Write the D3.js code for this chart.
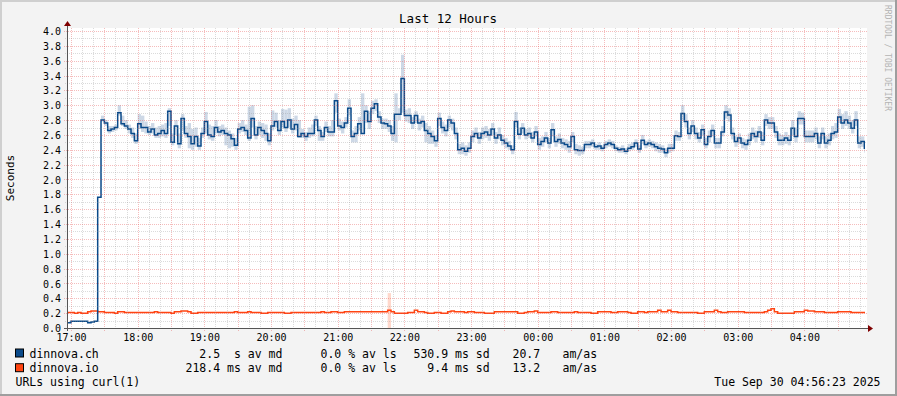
<!DOCTYPE html>
<html>
<head>
<meta charset="utf-8">
<script src="https://cdn.jsdelivr.net/npm/d3@7"></script>
<style>
  body { margin: 0; background: #f3f3f3; }
  text { font-family: "DejaVu Sans Mono", monospace; fill: #000; }
</style>
</head>
<body>
<script>
// dinnova.ch average, one value per 3 minutes starting 16:57
const chAvg = [
  0.07, 0.09, 0.09, 0.09, 0.09, 0.09, 0.07, 0.08, 0.09, 1.76,
  2.80, 2.76, 2.66, 2.68, 2.70, 2.90, 2.75, 2.72, 2.68, 2.62, 2.52, 2.75, 2.70, 2.70, 2.64, 2.68, 2.60, 2.62, 2.66, 2.62,
  2.92, 2.50, 2.72, 2.48, 2.82, 2.62, 2.58, 2.48, 2.58, 2.45, 2.62, 2.78, 2.60, 2.58, 2.70, 2.64, 2.66, 2.62, 2.60, 2.55,
  2.46, 2.68, 2.70, 2.66, 2.56, 2.82, 2.60, 2.70, 2.66, 2.62, 2.52, 2.72, 2.78, 2.66, 2.78, 2.70, 2.80, 2.68, 2.74,
  2.58, 2.62, 2.58, 2.62, 2.62, 2.80, 2.66, 2.58, 2.70, 2.64, 2.64, 3.06, 2.72, 2.70, 2.76, 2.96, 2.58, 2.62, 2.75, 2.62,
  2.92, 2.78, 2.96, 3.02, 2.84, 2.76, 2.75, 2.72, 2.62, 2.88, 2.88, 3.36, 2.86, 2.86, 2.76, 2.86, 2.76, 2.78, 2.66, 2.62,
  2.58, 2.52, 2.82, 2.70, 2.66, 2.80, 2.76, 2.62, 2.40, 2.42, 2.38, 2.42, 2.58, 2.62, 2.56, 2.62, 2.64, 2.60, 2.68, 2.56,
  2.60, 2.53, 2.49, 2.45, 2.40, 2.78, 2.61, 2.69, 2.60, 2.62, 2.56, 2.64, 2.47, 2.51, 2.56, 2.49, 2.67, 2.51, 2.54, 2.49,
  2.47, 2.44, 2.58, 2.40, 2.39,
  2.39, 2.47, 2.47, 2.49, 2.44, 2.45, 2.42, 2.47, 2.49, 2.47, 2.42, 2.40, 2.41, 2.38, 2.42, 2.44, 2.49, 2.41, 2.53, 2.47,
  2.49, 2.47, 2.44, 2.42, 2.41, 2.36, 2.42, 2.42, 2.59, 2.58, 2.89, 2.78, 2.62, 2.72, 2.62, 2.56, 2.67, 2.47, 2.58, 2.66,
  2.49, 2.49, 2.64, 2.91, 2.87, 2.62, 2.51, 2.56, 2.49, 2.47, 2.53, 2.62, 2.58, 2.64, 2.53, 2.80, 2.76, 2.76, 2.64, 2.53,
  2.53, 2.56, 2.53, 2.69, 2.58, 2.82, 2.82, 2.58, 2.58, 2.58, 2.62, 2.49, 2.62, 2.49, 2.53, 2.62, 2.64, 2.84, 2.76, 2.80,
  2.76, 2.69, 2.80, 2.49, 2.51, 2.42
];

// dinnova.ch max / min per step (light band)
const chMax = [
  0.07, 0.09, 0.09, 0.09, 0.09, 0.09, 0.07, 0.08, 0.09, 1.76,
  2.86, 2.80, 2.72, 2.72, 2.74, 3.00, 2.86, 2.80, 2.74, 2.70, 2.62, 2.88, 2.86, 2.78, 2.72, 2.76, 2.70, 2.72, 2.74, 2.76,
  2.96, 2.62, 2.80, 2.62, 2.88, 2.72, 2.76, 2.68, 2.70, 2.56, 2.70, 2.91, 2.74, 2.72, 2.80, 2.72, 2.74, 2.70, 2.66, 2.62,
  2.56, 2.76, 2.80, 2.74, 2.98, 3.00, 2.72, 2.78, 2.76, 2.74, 2.62, 2.93, 2.90, 2.80, 2.95, 2.94, 2.96, 2.82, 2.86,
  2.80, 2.68, 2.64, 2.70, 2.74, 2.86, 2.72, 2.64, 2.78, 2.72, 2.80, 3.16, 2.82, 2.78, 2.84, 3.08, 2.66, 2.72, 2.84, 3.16,
  3.00, 2.92, 3.06, 3.08, 2.92, 2.82, 2.82, 2.80, 2.72, 3.16, 2.96, 3.68, 2.94, 2.96, 2.84, 2.92, 2.82, 2.86, 2.76, 2.72,
  2.66, 2.60, 2.90, 2.78, 2.74, 2.86, 2.82, 2.70, 2.48, 2.50, 2.46, 2.50, 2.66, 2.70, 2.64, 2.70, 2.72, 2.68, 2.76, 2.64,
  2.70, 2.60, 2.56, 2.52, 2.46, 2.91, 2.70, 2.76, 2.68, 2.70, 2.64, 2.72, 2.56, 2.58, 2.64, 2.56, 2.76, 2.58, 2.62, 2.56,
  2.54, 2.52, 2.64, 2.48, 2.46,
  2.44, 2.52, 2.52, 2.54, 2.48, 2.50, 2.46, 2.52, 2.54, 2.52, 2.46, 2.44, 2.46, 2.42, 2.48, 2.50, 2.54, 2.46, 2.60, 2.52,
  2.54, 2.52, 2.50, 2.48, 2.46, 2.42, 2.48, 2.48, 2.66, 2.64, 3.00, 2.88, 2.70, 2.80, 2.70, 2.64, 2.74, 2.56, 2.66, 2.74,
  2.56, 2.56, 2.72, 3.00, 2.96, 2.70, 2.58, 2.62, 2.56, 2.54, 2.62, 2.70, 2.66, 2.72, 2.64, 2.88, 2.84, 2.84, 2.72, 2.62,
  2.60, 2.64, 2.60, 2.80, 2.70, 2.92, 2.90, 2.66, 2.66, 2.66, 2.70, 2.58, 2.70, 2.58, 2.62, 2.72, 2.76, 2.95, 2.88, 2.92,
  2.86, 2.80, 2.92, 2.58, 2.58, 2.50
];
const chMin = [
  0.07, 0.09, 0.09, 0.09, 0.09, 0.09, 0.07, 0.08, 0.09, 1.76,
  2.78, 2.72, 2.62, 2.64, 2.66, 2.86, 2.72, 2.68, 2.62, 2.56, 2.48, 2.68, 2.64, 2.62, 2.60, 2.62, 2.56, 2.56, 2.58, 2.56,
  2.72, 2.46, 2.60, 2.42, 2.66, 2.56, 2.42, 2.40, 2.44, 2.40, 2.56, 2.62, 2.54, 2.52, 2.62, 2.58, 2.60, 2.46, 2.42, 2.44,
  2.40, 2.62, 2.64, 2.60, 2.52, 2.70, 2.54, 2.60, 2.56, 2.52, 2.46, 2.66, 2.70, 2.60, 2.70, 2.64, 2.70, 2.62, 2.66,
  2.56, 2.56, 2.52, 2.56, 2.58, 2.72, 2.52, 2.52, 2.64, 2.58, 2.58, 2.90, 2.66, 2.62, 2.70, 2.86, 2.50, 2.50, 2.66, 2.62,
  2.76, 2.68, 2.88, 2.92, 2.76, 2.68, 2.68, 2.64, 2.52, 2.50, 2.80, 2.90, 2.78, 2.76, 2.68, 2.76, 2.66, 2.70, 2.50, 2.48,
  2.48, 2.44, 2.72, 2.62, 2.58, 2.70, 2.66, 2.54, 2.34, 2.34, 2.32, 2.36, 2.50, 2.56, 2.48, 2.54, 2.56, 2.52, 2.60, 2.48,
  2.54, 2.46, 2.42, 2.40, 2.34, 2.70, 2.54, 2.62, 2.54, 2.56, 2.50, 2.58, 2.40, 2.44, 2.50, 2.42, 2.58, 2.44, 2.48, 2.42,
  2.40, 2.36, 2.50, 2.34, 2.32,
  2.34, 2.42, 2.42, 2.44, 2.40, 2.40, 2.38, 2.42, 2.44, 2.42, 2.38, 2.36, 2.36, 2.34, 2.38, 2.40, 2.44, 2.36, 2.48, 2.42,
  2.44, 2.42, 2.38, 2.36, 2.36, 2.30, 2.36, 2.38, 2.52, 2.52, 2.80, 2.70, 2.54, 2.64, 2.54, 2.50, 2.60, 2.42, 2.50, 2.58,
  2.42, 2.42, 2.58, 2.82, 2.78, 2.54, 2.44, 2.48, 2.42, 2.40, 2.46, 2.54, 2.50, 2.56, 2.46, 2.72, 2.68, 2.68, 2.56, 2.46,
  2.46, 2.48, 2.46, 2.60, 2.50, 2.74, 2.74, 2.50, 2.50, 2.50, 2.54, 2.42, 2.54, 2.42, 2.46, 2.54, 2.56, 2.76, 2.68, 2.72,
  2.68, 2.62, 2.72, 2.42, 2.44, 2.36
];

// dinnova.io average, same time steps
const ioAvg = [
  0.21,
  0.21, 0.20, 0.21, 0.20, 0.20, 0.22, 0.23, 0.23, 0.22, 0.22,
  0.21, 0.21, 0.21, 0.20, 0.22, 0.22, 0.21, 0.21, 0.21, 0.21,
  0.21, 0.21, 0.21, 0.21, 0.21, 0.22, 0.21, 0.21, 0.21, 0.21,
  0.20, 0.22, 0.22, 0.23, 0.23, 0.22, 0.20, 0.20, 0.21, 0.21,
  0.21, 0.21, 0.21, 0.21, 0.21, 0.21, 0.21, 0.21, 0.21, 0.22,
  0.21, 0.21, 0.21, 0.22, 0.21, 0.21, 0.21, 0.20, 0.20, 0.21,
  0.21, 0.21, 0.21, 0.21, 0.20, 0.20, 0.21, 0.21, 0.21, 0.21,
  0.21, 0.21, 0.21, 0.21, 0.21, 0.22, 0.21, 0.21, 0.22, 0.22,
  0.21, 0.21, 0.22, 0.22, 0.22, 0.22, 0.22, 0.22, 0.22, 0.22,
  0.22, 0.22, 0.22, 0.22, 0.22, 0.24, 0.22, 0.20, 0.20, 0.20,
  0.20, 0.21, 0.21, 0.24, 0.22, 0.22, 0.21, 0.20, 0.20, 0.21,
  0.21, 0.20, 0.20, 0.22, 0.23, 0.22, 0.22, 0.22, 0.21, 0.22,
  0.22, 0.21, 0.21, 0.21, 0.20, 0.20, 0.20, 0.22, 0.22, 0.22,
  0.22, 0.22, 0.22, 0.22, 0.20, 0.20, 0.21, 0.22, 0.22, 0.23,
  0.21, 0.21, 0.21, 0.21, 0.22, 0.22, 0.21, 0.21, 0.21, 0.21,
  0.21, 0.22, 0.21, 0.21, 0.21, 0.21, 0.20, 0.20, 0.22, 0.22,
  0.22, 0.22, 0.21, 0.21, 0.22, 0.22, 0.22, 0.21, 0.20, 0.20,
  0.22, 0.22, 0.21, 0.22, 0.22, 0.22, 0.24, 0.22, 0.22, 0.24,
  0.22, 0.22, 0.21, 0.21, 0.21, 0.21, 0.21, 0.21, 0.20, 0.20,
  0.22, 0.22, 0.22, 0.24, 0.22, 0.21, 0.21, 0.22, 0.22, 0.22,
  0.22, 0.22, 0.21, 0.21, 0.21, 0.21, 0.21, 0.21, 0.22, 0.24,
  0.26, 0.22, 0.20, 0.20, 0.20, 0.20, 0.20, 0.22, 0.22, 0.22,
  0.24, 0.23, 0.23, 0.22, 0.22, 0.22, 0.21, 0.21, 0.21, 0.21,
  0.22, 0.22, 0.22, 0.22, 0.21, 0.21, 0.21, 0.21, 0.21
];
// dinnova.io min/max where it differs visibly from the average
const ioRange = [{ i: 96, lo: 0.0, hi: 0.47 }];

const yTicks = [0.0, 0.2, 0.4, 0.6, 0.8, 1.0, 1.2, 1.4, 1.6, 1.8, 2.0, 2.2, 2.4, 2.6, 2.8, 3.0, 3.2, 3.4, 3.6, 3.8, 4.0];
const seriesNames = ["dinnova.ch", "dinnova.io"];
const seriesColors = ["#0a4a8a", "#ff4411"];
const avgText = ["  2.5  s av md", "218.4 ms av md"];
const lossText = ["0.0 % av ls", "0.0 % av ls"];
const sdText = ["530.9 ms sd", "  9.4 ms sd"];
const amText = ["20.7", "13.2"];

const W = 897, H = 396;
const plot = { left: 67, right: 867, top: 28, bottom: 328 };

const tStart = new Date(2025, 8, 29, 16, 56, 23);
const tEnd = new Date(2025, 8, 30, 4, 56, 23);
const tFirst = new Date(2025, 8, 29, 16, 57, 0);
const stepMin = 3;
const times = chAvg.map((d, i) => d3.timeMinute.offset(tFirst, i * stepMin));

const x = d3.scaleTime().domain([tStart, tEnd]).range([plot.left, plot.right]);
const y = d3.scaleLinear().domain([0, 4.04]).range([plot.bottom, plot.top]);

const svg = d3.select("body").append("svg")
    .attr("width", W)
    .attr("height", H);

// background + shaded frame
svg.append("rect").attr("width", W).attr("height", H).attr("fill", "#f3f3f3");
svg.append("rect").attr("x", 0).attr("y", 0).attr("width", W).attr("height", 2).attr("fill", "#cfcfcf");
svg.append("rect").attr("x", 0).attr("y", 0).attr("width", 2).attr("height", H).attr("fill", "#cfcfcf");
svg.append("rect").attr("x", 0).attr("y", H - 2).attr("width", W).attr("height", 2).attr("fill", "#9e9e9e");
svg.append("rect").attr("x", W - 2).attr("y", 0).attr("width", 2).attr("height", H).attr("fill", "#9e9e9e");

// canvas
svg.append("rect")
    .attr("x", plot.left).attr("y", plot.top)
    .attr("width", plot.right - plot.left).attr("height", plot.bottom - plot.top)
    .attr("fill", "#ffffff");

svg.append("clipPath").attr("id", "clip")
    .append("rect")
    .attr("x", plot.left).attr("y", plot.top)
    .attr("width", plot.right - plot.left - 2).attr("height", plot.bottom - plot.top);

const g = svg.append("g").attr("clip-path", "url(#clip)");

// min/max bands
const stepW = i => x(d3.timeMinute.offset(times[i], stepMin)) - x(times[i]);
g.selectAll(".chband")
    .data(chAvg.map((d, i) => i))
    .enter().append("rect")
    .attr("x", i => x(times[i]))
    .attr("width", i => stepW(i))
    .attr("y", i => y(chMax[i]))
    .attr("height", i => y(chMin[i]) - y(chMax[i]))
    .attr("fill", "#cdd8e6");

g.selectAll(".ioband")
    .data(ioRange)
    .enter().append("rect")
    .attr("x", d => x(times[d.i]))
    .attr("width", d => stepW(d.i))
    .attr("y", d => y(d.hi))
    .attr("height", d => y(d.lo) - y(d.hi))
    .attr("fill", "#ffd8cc");

// grid
const minorColor = "rgba(143,143,143,0.32)";
const majorColor = "rgba(230,80,80,0.38)";
const grid = svg.append("g");
const minorX = x.ticks(d3.timeMinute.every(10));
const majorX = x.ticks(d3.timeMinute.every(30));
const majorSet = new Set(majorX.map(d => +d));
grid.selectAll(".vminor")
    .data(minorX.filter(d => !majorSet.has(+d)))
    .enter().append("line")
    .attr("x1", d => Math.round(x(d)) + 0.5).attr("x2", d => Math.round(x(d)) + 0.5)
    .attr("y1", plot.top).attr("y2", plot.bottom + 2)
    .attr("stroke", minorColor).attr("stroke-dasharray", "1,1");
grid.selectAll(".vmajor")
    .data(majorX)
    .enter().append("line")
    .attr("x1", d => Math.round(x(d)) + 0.5).attr("x2", d => Math.round(x(d)) + 0.5)
    .attr("y1", plot.top).attr("y2", plot.bottom + 3)
    .attr("stroke", majorColor).attr("stroke-dasharray", "1,1");

const minorY = d3.range(1, 41).map(d => d / 10).filter(d => Math.round(d * 10) % 2 === 1);
grid.selectAll(".hminor")
    .data(minorY)
    .enter().append("line")
    .attr("x1", plot.left - 2).attr("x2", plot.right)
    .attr("y1", d => Math.round(y(d)) + 0.5).attr("y2", d => Math.round(y(d)) + 0.5)
    .attr("stroke", minorColor).attr("stroke-dasharray", "1,1");
grid.selectAll(".hmajor")
    .data(yTicks.filter(d => d > 0))
    .enter().append("line")
    .attr("x1", plot.left - 3).attr("x2", plot.right)
    .attr("y1", d => Math.round(y(d)) + 0.5).attr("y2", d => Math.round(y(d)) + 0.5)
    .attr("stroke", majorColor).attr("stroke-dasharray", "1,1");

// lines
const stepLine = d3.line()
    .x(d => x(d[0]))
    .y(d => y(d[1]))
    .curve(d3.curveStepAfter);
const toPoints = arr => {
    const pts = arr.map((v, i) => [times[i], v]);
    pts.push([d3.timeMinute.offset(times[arr.length - 1], stepMin), arr[arr.length - 1]]);
    return pts;
};
g.append("path")
    .attr("d", stepLine(toPoints(ioAvg)))
    .attr("fill", "none")
    .attr("stroke", seriesColors[1])
    .attr("stroke-width", 1.5);
g.append("path")
    .attr("d", stepLine(toPoints(chAvg)))
    .attr("fill", "none")
    .attr("stroke", seriesColors[0])
    .attr("stroke-width", 1.5);

// axes lines + arrows
svg.append("line")
    .attr("x1", plot.left + 0.5).attr("x2", plot.left + 0.5)
    .attr("y1", plot.bottom + 3).attr("y2", plot.top - 4)
    .attr("stroke", "#555");
svg.append("line")
    .attr("x1", plot.left - 3).attr("x2", plot.right + 3)
    .attr("y1", plot.bottom + 0.5).attr("y2", plot.bottom + 0.5)
    .attr("stroke", "#555");
svg.append("path")
    .attr("d", `M${plot.left - 3},${plot.top - 2}L${plot.left + 4},${plot.top - 2}L${plot.left + 0.5},${plot.top - 7}Z`)
    .attr("fill", "#7f0000");
svg.append("path")
    .attr("d", `M${plot.right + 1},${plot.bottom - 3}L${plot.right + 1},${plot.bottom + 4}L${plot.right + 6},${plot.bottom + 0.5}Z`)
    .attr("fill", "#7f0000");

// axis labels
const xAxis = svg.append("g")
    .attr("transform", `translate(0,${plot.bottom})`)
    .call(d3.axisBottom(x).ticks(d3.timeHour.every(1)).tickFormat(d3.timeFormat("%H:%M")).tickSize(0));
xAxis.select(".domain").remove();
xAxis.selectAll("text")
    .attr("y", 13).attr("dy", null)
    .style("font-family", "DejaVu Sans Mono")
    .style("font-size", "10px")
    .attr("fill", "#000");

const yAxis = svg.append("g")
    .attr("transform", `translate(${plot.left},0)`)
    .call(d3.axisLeft(y).tickValues(yTicks).tickFormat(d3.format(".1f")).tickSize(0));
yAxis.select(".domain").remove();
yAxis.selectAll("text")
    .attr("x", -6).attr("dy", "0.36em")
    .style("font-family", "DejaVu Sans Mono")
    .style("font-size", "10px")
    .attr("fill", "#000");

// title, vertical label, watermark
svg.append("text")
    .attr("x", 448).attr("y", 23)
    .attr("text-anchor", "middle")
    .style("font-size", "12.5px")
    .text("Last 12 Hours");

svg.append("text")
    .attr("transform", `translate(14,${(plot.top + plot.bottom) / 2}) rotate(-90)`)
    .attr("text-anchor", "middle")
    .style("font-size", "11px")
    .text("Seconds");

svg.append("text")
    .attr("transform", "translate(885,5) rotate(90)")
    .attr("text-anchor", "start")
    .style("font-size", "8px")
    .style("fill", "#b4b4b4")
    .text("RRDTOOL / TOBI OETIKER");

// legend
const legend = svg.selectAll(".legend")
    .data(seriesNames)
    .enter().append("g")
    .attr("transform", (d, i) => `translate(0,${357.5 + i * 14.7})`);

legend.append("rect")
    .attr("x", 15.5).attr("y", -8.5)
    .attr("width", 8).attr("height", 8)
    .attr("fill", (d, i) => seriesColors[i])
    .attr("stroke", "#000");

const legendCols = [
    { x: 29.5, text: (d, i) => seriesNames[i] },
    { x: 185.5, text: (d, i) => avgText[i] },
    { x: 320.5, text: (d, i) => lossText[i] },
    { x: 413.5, text: (d, i) => sdText[i] },
    { x: 512.5, text: (d, i) => amText[i] },
    { x: 562.5, text: () => "am/as" }
];
legendCols.forEach(col => {
    legend.append("text")
        .attr("x", col.x)
        .attr("y", 0)
        .attr("xml:space", "preserve")
        .style("white-space", "pre")
        .style("font-size", "11.5px")
        .text(col.text);
});

svg.append("text")
    .attr("x", 15.5).attr("y", 386)
    .style("font-size", "11.5px")
    .text("URLs using curl(1)");

svg.append("text")
    .attr("x", 880.5).attr("y", 386)
    .attr("text-anchor", "end")
    .style("font-size", "11.5px")
    .text("Tue Sep 30 04:56:23 2025");
</script>
</body>
</html>
